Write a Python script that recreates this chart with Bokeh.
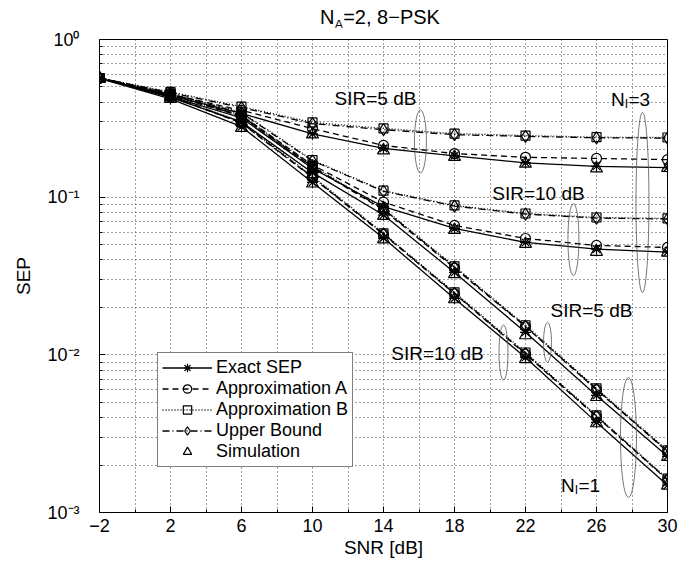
from bokeh.plotting import figure
from bokeh.layouts import column
from bokeh.models import (Range1d, FixedTicker, CustomJSTickFormatter, Legend,
                          LegendItem, Label, Div)
from bokeh.embed import file_html
from bokeh.resources import INLINE

FONT = "Liberation Sans"

# ---------------- data ----------------
snr = [-2, 2, 6, 10, 14, 18, 22, 26, 30]

# N_I = 3, SIR = 5 dB
n3s5_exact = [0.566, 0.44, 0.34, 0.252, 0.204, 0.183, 0.165, 0.157, 0.154]
n3s5_apxA = [0.57, 0.45, 0.355, 0.272, 0.213, 0.189, 0.179, 0.176, 0.173]
n3s5_apxB = [0.57, 0.465, 0.375, 0.298, 0.273, 0.253, 0.246, 0.240, 0.239]
n3s5_ub = [0.57, 0.46, 0.37, 0.293, 0.268, 0.249, 0.243, 0.238, 0.237]
n3s5_sim = [0.566, 0.44, 0.34, 0.25, 0.198, 0.18, 0.163, 0.152, 0.153]

# N_I = 3, SIR = 10 dB
n3s10_exact = [0.566, 0.435, 0.318, 0.152, 0.087, 0.0634, 0.0516, 0.0468, 0.0448]
n3s10_apxA = [0.57, 0.445, 0.33, 0.16, 0.093, 0.0662, 0.0547, 0.0494, 0.048]
n3s10_apxB = [0.57, 0.455, 0.345, 0.172, 0.110, 0.0886, 0.0788, 0.0743, 0.0733]
n3s10_ub = [0.57, 0.452, 0.342, 0.170, 0.109, 0.0878, 0.0781, 0.0737, 0.0727]
n3s10_sim = [0.566, 0.435, 0.315, 0.15, 0.085, 0.062, 0.0505, 0.045, 0.0445]

# N_I = 1, SIR = 5 dB
n1s5_exact = [0.566, 0.43, 0.30, 0.143, 0.077, 0.0333, 0.0139, 0.00553, 0.00227]
n1s5_apxA = [0.57, 0.445, 0.325, 0.155, 0.083, 0.0355, 0.0151, 0.0060, 0.00243]
n1s5_apxB = [0.57, 0.45, 0.33, 0.158, 0.085, 0.0364, 0.0154, 0.00613, 0.00248]
n1s5_ub = [0.57, 0.447, 0.327, 0.156, 0.084, 0.0360, 0.0152, 0.00605, 0.00245]
n1s5_sim = [0.566, 0.43, 0.30, 0.14, 0.076, 0.0325, 0.0133, 0.0054, 0.00225]

# N_I = 1, SIR = 10 dB
n1s10_exact = [0.566, 0.42, 0.28, 0.124, 0.055, 0.0228, 0.00963, 0.00373, 0.00149]
n1s10_apxA = [0.57, 0.435, 0.295, 0.133, 0.058, 0.0244, 0.0101, 0.00405, 0.00161]
n1s10_apxB = [0.57, 0.44, 0.30, 0.136, 0.059, 0.0249, 0.01035, 0.00413, 0.00164]
n1s10_ub = [0.57, 0.437, 0.297, 0.134, 0.0585, 0.0246, 0.0102, 0.00409, 0.00162]
n1s10_sim = [0.566, 0.42, 0.275, 0.122, 0.054, 0.0225, 0.0094, 0.00368, 0.00148]

groups = [
    (n3s5_exact, n3s5_apxA, n3s5_apxB, n3s5_ub, n3s5_sim),
    (n3s10_exact, n3s10_apxA, n3s10_apxB, n3s10_ub, n3s10_sim),
    (n1s5_exact, n1s5_apxA, n1s5_apxB, n1s5_ub, n1s5_sim),
    (n1s10_exact, n1s10_apxA, n1s10_apxB, n1s10_ub, n1s10_sim),
]

legend_labels = ["Exact SEP", "Approximation A", "Approximation B",
                 "Upper Bound", "Simulation"]

x_ticks = [-2, 2, 6, 10, 14, 18, 22, 26, 30]
x_minor = [0, 4, 8, 12, 16, 20, 24, 28]
y_ticks = [1e-3, 1e-2, 1e-1, 1.0]

# annotation ellipses: (snr, sep, width px, height px)
ell_x = [16.08, 28.59, 24.70, 23.24, 20.76, 27.80]
ell_y = [0.2255, 0.0925, 0.0539, 0.0120, 0.01035, 0.00299]
ell_w = [12, 13, 11, 8, 9, 16]
ell_h = [63, 180, 72, 40, 55, 120]

# annotation texts
sir_texts = ["SIR=5 dB", "SIR=10 dB", "SIR=5 dB", "SIR=10 dB"]
sir_x = [13.55, 22.73, 25.72, 17.04]
sir_y = [0.423, 0.1055, 0.01913, 0.01021]
ni_texts = ["3", "1"]
ni_x = [27.92, 25.1]
ni_y = [0.417, 0.001486]

# ---------------- figure ----------------
p = figure(width=689, height=534, y_axis_type="log",
           x_range=Range1d(-2, 30), y_range=Range1d(1e-3, 1.0),
           output_backend="svg", toolbar_location=None, title=None,
           min_border_left=99, min_border_right=22,
           min_border_top=12, min_border_bottom=49)

p.background_fill_color = "white"
p.outline_line_color = "black"
p.outline_line_width = 1
p.outline_line_alpha = 1

p.xaxis.ticker = FixedTicker(ticks=x_ticks, minor_ticks=x_minor)
p.xaxis.major_label_overrides = {t: (str(t).replace("-", "\u2212")) for t in x_ticks}
minor_y = [m * d for d in [1e-3, 1e-2, 1e-1] for m in range(2, 10)]
p.yaxis.ticker = FixedTicker(ticks=y_ticks, minor_ticks=minor_y)
p.yaxis.formatter = CustomJSTickFormatter(code="""
const sup = {"0":"\u2070","1":"\u00b9","2":"\u00b2","3":"\u00b3","4":"\u2074",
             "5":"\u2075","6":"\u2076","7":"\u2077","8":"\u2078","9":"\u2079","-":"\u207b"};
const e = Math.round(Math.log10(tick)).toString();
return "10" + e.split("").map(c => sup[c]).join("");
""")

for ax in (p.xaxis, p.yaxis):
    ax.axis_line_color = "black"
    ax.major_tick_in = 6
    ax.major_tick_out = 0
    ax.minor_tick_in = 3
    ax.minor_tick_out = 0
    ax.major_tick_line_color = "black"
    ax.minor_tick_line_color = "black"
    ax.major_label_text_font = FONT
    ax.major_label_text_font_size = "18px"
    ax.major_label_text_color = "black"
    ax.axis_label_text_font = FONT
    ax.axis_label_text_font_size = "19px"
    ax.axis_label_text_font_style = "normal"
    ax.axis_label_text_color = "black"

p.xaxis.major_label_standoff = 6
p.xaxis.axis_label = "SNR [dB]"
p.xaxis.axis_label_standoff = 2
p.yaxis.major_label_standoff = 20
p.yaxis.axis_label = "SEP"
p.yaxis.axis_label_standoff = 10

for g in (p.xgrid, p.ygrid):
    g.grid_line_color = "#222222"
    g.grid_line_dash = "1 3"
    g.grid_line_width = 1
    g.grid_line_alpha = 0.85
    g.minor_grid_line_color = "#222222"
    g.minor_grid_line_dash = "1 3"
    g.minor_grid_line_width = 1
    g.minor_grid_line_alpha = 0.85

# ---------------- curves ----------------
styles = [
    ("solid", "asterisk", 11),
    ("6 4", "circle", 10),
    ("1 2", "square", 9),
    ("7 3 1 3", "diamond", 12),
]
legend_renderers = None
for gi, grp in enumerate(groups):
    rs = []
    for si, (dash, marker, msize) in enumerate(styles):
        ln = p.line(snr, grp[si], line_color="black", line_width=1.3, line_dash=dash)
        sc = p.scatter(snr, grp[si], marker=marker, size=msize, fill_color=None,
                       line_color="black", line_width=1.2)
        rs.append([ln, sc])
    tri = p.scatter(snr, grp[4], marker="triangle", size=12, fill_color=None,
                    line_color="black", line_width=1.2)
    rs.append([tri])
    if legend_renderers is None:
        legend_renderers = rs

# ---------------- annotations ----------------
p.ellipse(x=ell_x, y=ell_y, width=ell_w, height=ell_h,
          width_units="screen", height_units="screen",
          fill_color=None, line_color="#555555", line_width=0.8)

for t, x, y in zip(sir_texts, sir_x, sir_y):
    p.add_layout(Label(x=x, y=y, text=t, text_font=FONT, text_font_size="19px",
                       text_align="center", text_baseline="middle",
                       text_color="black"))


def sub_label(x, y, main, sub, rest, fs, sfs, w_main, w_sub, w_rest, drop):
    total = w_main + w_sub + w_rest
    left = -total / 2.0
    p.add_layout(Label(x=x, y=y, text=main, x_offset=left, text_font=FONT,
                       text_font_size=f"{fs}px", text_align="left",
                       text_baseline="middle", text_color="black"))
    p.add_layout(Label(x=x, y=y, text=sub, x_offset=left + w_main, y_offset=-drop,
                       text_font=FONT, text_font_size=f"{sfs}px", text_align="left",
                       text_baseline="middle", text_color="black"))
    p.add_layout(Label(x=x, y=y, text=rest, x_offset=left + w_main + w_sub,
                       text_font=FONT, text_font_size=f"{fs}px", text_align="left",
                       text_baseline="middle", text_color="black"))


for t, x, y in zip(ni_texts, ni_x, ni_y):
    sub_label(x, y, "N", "I", "=" + t, 19, 12, 13.7, 3.8, 21.7, 5)

# ---------------- legend ----------------
items = [LegendItem(label=lab, renderers=r) for lab, r in zip(legend_labels, legend_renderers)]
legend = Legend(items=items, location=(58, 45))
legend.label_text_font = FONT
legend.label_text_font_size = "18px"
legend.label_text_color = "black"
legend.glyph_width = 50
legend.glyph_height = 21
legend.label_height = 21
legend.spacing = 0
legend.padding = 4
legend.margin = 0
legend.label_standoff = 4
legend.border_line_color = "black"
legend.border_line_width = 1
legend.background_fill_color = "white"
legend.background_fill_alpha = 1
p.add_layout(legend, "center")

# ---------------- title (with subscript) ----------------
title_html = (
    '<div style="width:689px;box-sizing:border-box;padding-left:93px;'
    'padding-right:22px;padding-top:7px;text-align:center;'
    "font-family:'Liberation Sans',Arial,sans-serif;font-size:20px;"
    'line-height:20px;color:black;">'
    'N<sub style="font-size:13px;line-height:0;">A</sub>=2, 8\u2212PSK</div>'
)
title_div = Div(text=title_html, width=689, height=27, margin=0)

layout = column(title_div, p, spacing=0, margin=0)

open("out.html", "w", encoding="utf-8").write(file_html(layout, INLINE))
